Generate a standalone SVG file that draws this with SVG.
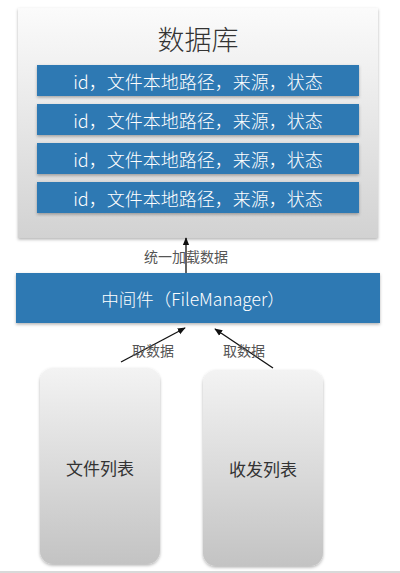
<svg xmlns="http://www.w3.org/2000/svg" width="400" height="573" viewBox="0 0 400 573">
<defs>
<linearGradient id="gDb" x1="0" y1="0" x2="0" y2="1">
<stop offset="0" stop-color="#fbfbfb"/>
<stop offset="1" stop-color="#d2d2d2"/>
</linearGradient>
<linearGradient id="gCard" x1="0" y1="0" x2="0" y2="1">
<stop offset="0" stop-color="#f3f3f3"/>
<stop offset="1" stop-color="#c3c3c3"/>
</linearGradient>
<filter id="sh" x="-10%" y="-10%" width="120%" height="120%">
<feDropShadow dx="0" dy="1.5" stdDeviation="1.5" flood-color="#000" flood-opacity="0.3"/>
</filter>
<marker id="ah" viewBox="0 0 10 10" refX="9" refY="5" markerWidth="8" markerHeight="8" markerUnits="userSpaceOnUse" orient="auto">
<path d="M0,1 L10,5 L0,9 Z" fill="#111"/>
</marker>
</defs>
<style>
text{font-family:"Noto Sans CJK SC","Liberation Sans",sans-serif;text-anchor:middle;dominant-baseline:central}
.bar{fill:#2f79b3;filter:url(#sh)}
.bt{fill:#fff;font-size:18px;font-weight:300}
.mt{fill:#fff;font-size:17.5px;font-weight:300}
.lbl{fill:#555;font-size:14px}
.card{fill:url(#gCard);filter:url(#sh)}
.ct{fill:#333;font-size:17px}
.ln{stroke:#111;stroke-width:1.3;fill:none;marker-end:url(#ah)}
</style>
<rect width="400" height="573" fill="#fff"/>
<g id="db">
<rect x="18" y="8" width="360" height="230" fill="url(#gDb)" filter="url(#sh)"/>
<text x="198" y="38" font-size="27" fill="#333" font-weight="300">数据库</text>
<rect class="bar" x="37" y="65" width="322" height="31"/>
<text class="bt" x="198" y="81">id，文件本地路径，来源，状态</text>
<rect class="bar" x="37" y="104" width="322" height="31"/>
<text class="bt" x="198" y="120">id，文件本地路径，来源，状态</text>
<rect class="bar" x="37" y="143" width="322" height="31"/>
<text class="bt" x="198" y="159">id，文件本地路径，来源，状态</text>
<rect class="bar" x="37" y="182" width="322" height="31"/>
<text class="bt" x="198" y="198">id，文件本地路径，来源，状态</text>
</g>
<g id="middleware">
<rect class="bar" x="16" y="273" width="364" height="50"/>
<text class="mt" x="193" y="298">中间件（FileManager）</text>
</g>
<g id="filelist">
<rect class="card" x="40" y="368" width="120" height="196" rx="13"/>
<text class="ct" x="100" y="467">文件列表</text>
</g>
<g id="sendlist">
<rect class="card" x="203" y="370" width="120" height="196" rx="13"/>
<text class="ct" x="263" y="468">收发列表</text>
</g>
<g id="connectors">
<line class="ln" x1="186" y1="273" x2="186" y2="238"/>
<text class="lbl" x="186" y="256">统一加载数据</text>
<line class="ln" x1="121" y1="362" x2="185" y2="328"/>
<text class="lbl" x="153" y="350">取数据</text>
<line class="ln" x1="273" y1="368" x2="215" y2="329"/>
<text class="lbl" x="244" y="350">取数据</text>
</g>
<line x1="0" y1="572" x2="400" y2="572" stroke="#ccc" stroke-width="1.5"/>
</svg>
